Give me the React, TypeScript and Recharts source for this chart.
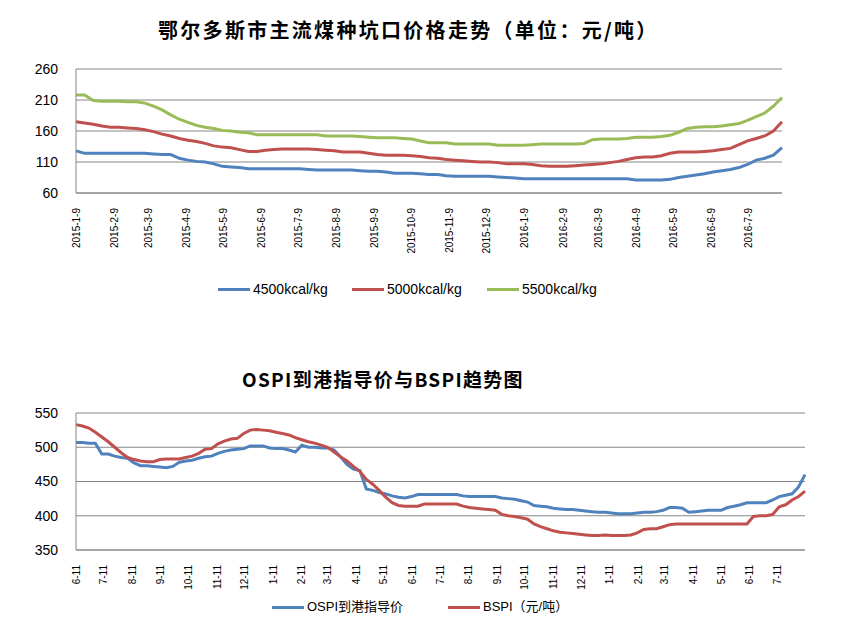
import React from "react";
import { LineChart, Line, XAxis, YAxis, CartesianGrid } from "recharts";

// top chart: weekly prices, first point 2015-1-9
const topTickLabels = [
  "2015-1-9", "2015-2-9", "2015-3-9", "2015-4-9", "2015-5-9", "2015-6-9", "2015-7-9",
  "2015-8-9", "2015-9-9", "2015-10-9", "2015-11-9", "2015-12-9", "2016-1-9", "2016-2-9",
  "2016-3-9", "2016-4-9", "2016-5-9", "2016-6-9", "2016-7-9",
];
const kcal4500 = [
  128, 124, 124, 124, 124, 124, 124, 124, 124, 123,
  122, 122, 116, 113, 111, 110, 107, 103, 102, 101,
  99, 99, 99, 99, 99, 99, 99, 98, 97, 97,
  97, 97, 97, 96, 95, 95, 94, 92, 92, 92,
  91, 90, 90, 88, 87, 87, 87, 87, 87, 86,
  85, 84, 83, 83, 83, 83, 83, 83, 83, 83,
  83, 83, 83, 83, 83, 81, 81, 81, 81, 82,
  85, 87, 89, 91, 94, 96, 98, 101, 106, 113,
  116, 121, 133,
];
const kcal5000 = [
  175, 173, 171, 168, 166, 166, 165, 164, 162, 159,
  155, 152, 148, 145, 143, 140, 136, 134, 133, 130,
  127, 127, 129, 130, 131, 131, 131, 131, 130, 129,
  128, 126, 126, 126, 124, 122, 121, 121, 121, 120,
  119, 117, 116, 114, 113, 112, 111, 110, 110, 109,
  107, 107, 107, 106, 104, 103, 103, 103, 104, 105,
  106, 107, 109, 111, 114, 117, 118, 118, 120, 124,
  126, 126, 126, 127, 128, 130, 132, 138, 144, 148,
  152, 160, 175,
];
const kcal5500 = [
  218, 218, 209, 208, 208, 208, 207, 207, 205, 200,
  194, 186, 179, 174, 169, 166, 164, 161, 160, 158,
  157, 154, 154, 154, 154, 154, 154, 154, 154, 152,
  152, 152, 152, 151, 150, 149, 149, 149, 148, 147,
  144, 141, 141, 141, 139, 139, 139, 139, 139, 137,
  137, 137, 137, 138, 139, 139, 139, 139, 139, 140,
  146, 147, 147, 147, 148, 150, 150, 150, 151, 153,
  158, 164, 166, 167, 167, 168, 170, 172, 177, 183,
  189, 200, 214,
];

// bottom chart: weekly index, first point 2014-6-11
const bottomTickDates = [
  "2014-6-11", "2014-7-11", "2014-8-11", "2014-9-11", "2014-10-11", "2014-11-11", "2014-12-11",
  "2015-1-11", "2015-2-11", "2015-3-11", "2015-4-11", "2015-5-11", "2015-6-11", "2015-7-11",
  "2015-8-11", "2015-9-11", "2015-10-11", "2015-11-11", "2015-12-11", "2016-1-11", "2016-2-11",
  "2016-3-11", "2016-4-11", "2016-5-11", "2016-6-11", "2016-7-11",
];
const ospi = [
  507, 507, 506, 506, 490, 490, 487, 485, 484, 477,
  473, 473, 472, 471, 470, 472, 478, 480, 481, 484,
  486, 487, 491, 494, 496, 497, 498, 502, 502, 502,
  499, 498, 498, 496, 493, 503, 500, 500, 499, 499,
  496, 486, 475, 468, 466, 439, 437, 434, 432, 429,
  427, 426, 428, 431, 431, 431, 431, 431, 431, 431,
  429, 428, 428, 428, 428, 428, 426, 425, 424, 422,
  420, 415, 414, 413, 411, 410, 409, 409, 408, 407,
  406, 405, 405, 404, 403, 403, 403, 404, 405, 405,
  406, 408, 412, 412, 411, 405, 406, 407, 408, 408,
  408, 412, 414, 416, 419, 419, 419, 419, 423, 428,
  430, 432, 442, 460,
];
const bspi = [
  533, 531, 528, 522, 515, 508, 500, 492, 485, 482,
  480, 479, 479, 482, 483, 483, 483, 485, 487, 491,
  497, 498, 505, 509, 512, 513, 520, 525, 526, 525,
  524, 522, 520, 518, 514, 511, 508, 506, 503, 500,
  493, 486, 480, 472, 465, 453, 446, 437, 427, 419,
  415, 414, 414, 414, 417, 417, 417, 417, 417, 417,
  414, 412, 411, 410, 409, 408, 402, 400, 399, 397,
  395, 388, 384, 381, 378, 376, 375, 374, 373, 372,
  371, 371, 372, 371, 371, 371, 372, 375, 380, 381,
  381, 384, 387, 388, 388, 388, 388, 388, 388, 388,
  388, 388, 388, 388, 388, 399, 400, 400, 402, 413,
  416, 423, 428, 436,
];

const BLUE = "#4F81BD";
const RED = "#C0504D";
const GREEN = "#9BBB59";
const GRID = "#868686";
const FONT = "'Liberation Sans', 'Noto Sans CJK SC', sans-serif";
const CJK = "'Noto Sans CJK SC', sans-serif";

const daysFrom = (s: string, start: [number, number, number]) => {
  const [y, m, d] = s.split("-").map(Number);
  return (Date.UTC(y, m - 1, d) - Date.UTC(start[0], start[1] - 1, start[2])) / 86400000;
};

const topData = kcal4500.map((v, i) => ({
  day: i * 7, a: v, b: kcal5000[i], c: kcal5500[i],
}));
const topTicks = topTickLabels.map((s) => daysFrom(s, [2015, 1, 9]));
const topLabelOf = new Map(topTicks.map((d, i) => [d, topTickLabels[i]]));

const bottomData = ospi.map((v, i) => ({ day: i * 7, ospi: v, bspi: bspi[i] }));
const bottomTicks = bottomTickDates.map((s) => daysFrom(s, [2014, 6, 11]));
const bottomLabelOf = new Map(
  bottomTicks.map((d, i) => [d, bottomTickDates[i].split("-").slice(1).join("-")])
);

function RotTick(props: any) {
  const { x, payload, labels, yPos } = props;
  return (
    <text
      x={x}
      y={yPos}
      transform={`rotate(-90 ${x} ${yPos})`}
      textAnchor="end"
      dominantBaseline="central"
      fontSize={10}
      fontFamily={FONT}
      fill="#000"
    >
      {labels.get(payload.value)}
    </text>
  );
}

function LegendItem({ left, top, color, text, size }: { left: number; top: number; color: string; text: string; size: number }) {
  return (
    <div style={{ position: "absolute", left, top, display: "flex", alignItems: "center", whiteSpace: "nowrap" }}>
      <div style={{ width: 32, height: 3, background: color, marginRight: 3 }} />
      <span style={{ fontSize: size, fontFamily: FONT, color: "#000", lineHeight: "18px" }}>{text}</span>
    </div>
  );
}

export default function App() {
  const yTick = { fontSize: 14, fill: "#000", fontFamily: FONT };
  return (
    <div style={{ position: "absolute", left: 0, top: 0, width: 843, height: 627, background: "#fff", overflow: "hidden" }}>
      <div style={{ position: "absolute", left: 158, top: 16, whiteSpace: "nowrap", fontFamily: CJK, fontWeight: 700, fontSize: 20, letterSpacing: 2.3, lineHeight: "28px", color: "#000" }}>
        鄂尔多斯市主流煤种坑口价格走势（单位：元/吨）
      </div>

      <div style={{ position: "absolute", left: 0, top: 0 }}>
        <LineChart width={843} height={260} data={topData} margin={{ top: 69, right: 61, bottom: 7, left: 0 }}>
          <CartesianGrid vertical={false} stroke={GRID} />
          <XAxis
            type="number"
            dataKey="day"
            domain={[0, 574]}
            ticks={topTicks}
            interval={0}
            height={60}
            tickLine={false}
            axisLine={{ stroke: GRID }}
            tick={<RotTick labels={topLabelOf} yPos={208} />}
          />
          <YAxis
            domain={[60, 260]}
            ticks={[60, 110, 160, 210, 260]}
            width={76}
            tickLine={false}
            tickMargin={12}
            axisLine={{ stroke: GRID }}
            tick={yTick}
          />
          <Line dataKey="a" stroke={BLUE} strokeWidth={3} dot={false} isAnimationActive={false} />
          <Line dataKey="b" stroke={RED} strokeWidth={3} dot={false} isAnimationActive={false} />
          <Line dataKey="c" stroke={GREEN} strokeWidth={3} dot={false} isAnimationActive={false} />
        </LineChart>
      </div>

      <LegendItem left={218} top={280} color={BLUE} text="4500kcal/kg" size={14} />
      <LegendItem left={352} top={280} color={RED} text="5000kcal/kg" size={14} />
      <LegendItem left={487} top={280} color={GREEN} text="5500kcal/kg" size={14} />

      <div style={{ position: "absolute", left: 242, top: 366, whiteSpace: "nowrap", fontFamily: CJK, fontWeight: 700, fontSize: 19, letterSpacing: 1.3, lineHeight: "26px", color: "#000" }}>
        OSPI到港指导价与BSPI趋势图
      </div>

      <div style={{ position: "absolute", left: 0, top: 340 }}>
        <LineChart width={843} height={260} data={bottomData} margin={{ top: 73, right: 38, bottom: 10, left: 0 }}>
          <CartesianGrid vertical={false} stroke={GRID} />
          <XAxis
            type="number"
            dataKey="day"
            domain={[0, 791]}
            ticks={bottomTicks}
            interval={0}
            height={40}
            tickLine={false}
            axisLine={{ stroke: GRID }}
            tick={<RotTick labels={bottomLabelOf} yPos={225} />}
          />
          <YAxis
            domain={[350, 550]}
            ticks={[350, 400, 450, 500, 550]}
            width={76}
            tickLine={false}
            tickMargin={12}
            axisLine={{ stroke: GRID }}
            tick={yTick}
          />
          <Line dataKey="ospi" stroke={BLUE} strokeWidth={3} dot={false} isAnimationActive={false} />
          <Line dataKey="bspi" stroke={RED} strokeWidth={3} dot={false} isAnimationActive={false} />
        </LineChart>
      </div>

      <LegendItem left={272} top={598} color={BLUE} text="OSPI到港指导价" size={13} />
      <LegendItem left={448} top={598} color={RED} text="BSPI（元/吨）" size={13} />
    </div>
  );
}
